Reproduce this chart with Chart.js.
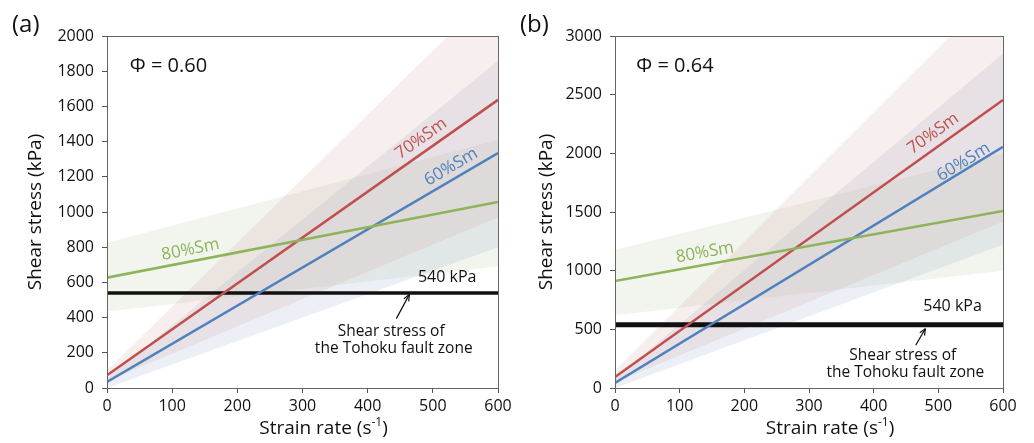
<!DOCTYPE html>
<html>
<head>
<meta charset="utf-8">
<script src="https://cdn.jsdelivr.net/npm/chart.js@4.4.1/dist/chart.umd.min.js"></script>
<style>
  html, body { margin: 0; padding: 0; background: #fff; }
  #wrap { position: relative; width: 1034px; height: 443px; }
  .panel { position: absolute; top: 0; width: 517px; height: 443px; }
</style>
</head>
<body>
<div id="wrap">
  <div class="panel" style="left:0"><canvas id="chartA"></canvas></div>
  <div class="panel" style="left:517px"><canvas id="chartB"></canvas></div>
</div>
<script>
// strain rate range (s^-1) — every line is drawn through these two x values
const strainRate = [0, 600];
const faultStress = [540, 540];

// (a) Φ = 0.60
const a_sm60 = [34, 1335];
const a_sm70 = [72, 1637];
const a_sm80 = [627, 1057];
const a_sm60Hi = [55, 1860];
const a_sm60Lo = [0, 800];
const a_sm70Hi = [100, 2280];
const a_sm70Lo = [40, 970];
const a_sm80Hi = [825, 1410];
const a_sm80Lo = [435, 690];
const a_yTicks = [0, 2000, 200];

// (b) Φ = 0.64
const b_sm60 = [43, 2056];
const b_sm70 = [94, 2455];
const b_sm80 = [912, 1508];
const b_sm60Hi = [80, 2850];
const b_sm60Lo = [0, 1220];
const b_sm70Hi = [150, 3450];
const b_sm70Lo = [50, 1420];
const b_sm80Hi = [1178, 2000];
const b_sm80Lo = [620, 1000];
const b_yTicks = [0, 3000, 500];

const FONT = "'Open Sans', 'Liberation Sans', sans-serif";
const RED = '#c0504d', BLUE = '#4f81bd', GREEN = '#8db45a';

const pts = ys => strainRate.map((x, i) => ({ x, y: ys[i] }));

function line(label, ys, color, width) {
  return { label, data: pts(ys), borderColor: color, borderWidth: width, pointRadius: 0, fill: false, tension: 0 };
}
function band(label, ys, fillTo, color) {
  return { label, data: pts(ys), borderWidth: 0, borderColor: 'rgba(0,0,0,0)', pointRadius: 0,
           fill: fillTo === null ? false : { target: fillTo }, backgroundColor: color };
}

// annotation / frame plugin
const decor = {
  id: 'decor',
  afterDatasetsDraw(chart, args, o) {
    const { ctx, chartArea: ca, scales: { x, y } } = chart;
    const px = v => x.getPixelForValue(v), py = v => y.getPixelForValue(v);
    ctx.save();
    // frame
    ctx.strokeStyle = '#666'; ctx.lineWidth = 1;
    ctx.strokeRect(Math.round(ca.left) + 0.5, Math.round(ca.top) + 0.5,
                   Math.round(ca.right - ca.left), Math.round(ca.bottom - ca.top));

    // panel tag
    ctx.fillStyle = '#111'; ctx.textBaseline = 'middle'; ctx.textAlign = 'left';
    ctx.font = `24px ${FONT}`;
    ctx.fillText(o.tag, o.tagX, 25);

    // phi
    ctx.font = `20px ${FONT}`;
    ctx.fillText(o.phi.text, px(o.phi.x), py(o.phi.y));

    // rotated series labels
    o.labels.forEach(l => {
      const ang = Math.atan2(py(l.ys[1]) - py(l.ys[0]), px(strainRate[1]) - px(strainRate[0]));
      ctx.save();
      ctx.translate(px(l.x), py(l.y));
      ctx.rotate(ang);
      ctx.font = `17px ${FONT}`; ctx.fillStyle = l.color; ctx.textAlign = 'center';
      ctx.fillText(l.text, 0, 0);
      ctx.restore();
    });

    // 540 kPa + note
    ctx.fillStyle = '#111'; ctx.textAlign = 'center';
    ctx.font = `16px ${FONT}`;
    ctx.fillText('540 kPa', px(o.kpa.x), py(o.kpa.y));
    ctx.font = `15.5px ${FONT}`;
    ctx.fillText('Shear stress of', px(o.note.x1), py(o.note.y1));
    ctx.fillText('the Tohoku fault zone', px(o.note.x2), py(o.note.y2));

    // arrow
    const ax0 = px(o.arrow[2]), ay0 = py(o.arrow[3]), ax1 = px(o.arrow[0]), ay1 = py(o.arrow[1]);
    ctx.strokeStyle = '#111'; ctx.lineWidth = 1.2;
    ctx.beginPath(); ctx.moveTo(ax0, ay0); ctx.lineTo(ax1, ay1); ctx.stroke();
    const a = Math.atan2(ay1 - ay0, ax1 - ax0);
    ctx.beginPath();
    ctx.moveTo(ax1, ay1);
    ctx.lineTo(ax1 - 7 * Math.cos(a - 0.4), ay1 - 7 * Math.sin(a - 0.4));
    ctx.moveTo(ax1, ay1);
    ctx.lineTo(ax1 - 7 * Math.cos(a + 0.4), ay1 - 7 * Math.sin(a + 0.4));
    ctx.stroke();

    // x title with superscript
    const cx = (ca.left + ca.right) / 2 + 21, ty = 429;
    const big = `19px ${FONT}`, small = `12px ${FONT}`;
    ctx.font = big; const w1 = ctx.measureText('Strain rate (s').width, w3 = ctx.measureText(')').width;
    ctx.font = small; const w2 = ctx.measureText('-1').width;
    let sx = cx - (w1 + w2 + w3) / 2;
    ctx.textAlign = 'left'; ctx.fillStyle = '#111';
    ctx.font = big; ctx.fillText('Strain rate (s', sx, ty); sx += w1;
    ctx.font = small; ctx.fillText('-1', sx, ty - 6); sx += w2;
    ctx.font = big; ctx.fillText(')', sx, ty);
    ctx.restore();
  }
};

function makeChart(id, d) {
  return new Chart(document.getElementById(id), {
    type: 'line',
    data: {
      datasets: [
        line('80%Sm', d.sm80, GREEN, 2.5),
        line('70%Sm', d.sm70, RED, 2.5),
        line('60%Sm', d.sm60, BLUE, 2.5),
        line('540 kPa', faultStress, '#111', d.faultWidth),
        band('70 hi', d.sm70Hi, 5, 'rgba(200,140,140,0.15)'),
        band('70 lo', d.sm70Lo, null),
        band('60 hi', d.sm60Hi, 7, 'rgba(125,155,195,0.15)'),
        band('60 lo', d.sm60Lo, null),
        band('80 hi', d.sm80Hi, 9, 'rgba(170,190,140,0.15)'),
        band('80 lo', d.sm80Lo, null)
      ]
    },
    options: {
      responsive: true, maintainAspectRatio: false, animation: false,
      layout: { padding: { top: 36, right: d.padRight, left: d.padLeft, bottom: 0 } },
      plugins: {
        legend: { display: false }, tooltip: { enabled: false },
        filler: { drawTime: 'beforeDatasetsDraw' },
        decor: d.decor
      },
      scales: {
        x: {
          type: 'linear', min: 0, max: 600,
          border: { color: '#555' },
          grid: { drawOnChartArea: false, tickLength: 5, color: '#555' },
          ticks: { stepSize: 100, color: '#111', padding: 4, font: { family: FONT, size: 16 }, callback: v => String(v) },
          afterFit: s => { s.height = 55; }
        },
        y: {
          min: d.yTicks[0], max: d.yTicks[1],
          border: { color: '#555' },
          grid: { drawOnChartArea: false, tickLength: 5, color: '#555' },
          ticks: { stepSize: d.yTicks[2], color: '#111', padding: 8, font: { family: FONT, size: 16 }, callback: v => String(v) },
          title: { display: true, text: 'Shear stress (kPa)', color: '#111', padding: 0, font: { family: FONT, size: 19 } },
          afterFit: s => { s.width = d.yWidth; }
        }
      }
    },
    plugins: [decor]
  });
}

makeChart('chartA', {
  sm60: a_sm60, sm70: a_sm70, sm80: a_sm80,
  sm60Hi: a_sm60Hi, sm60Lo: a_sm60Lo, sm70Hi: a_sm70Hi, sm70Lo: a_sm70Lo, sm80Hi: a_sm80Hi, sm80Lo: a_sm80Lo,
  yTicks: a_yTicks, faultWidth: 3.5, padLeft: 24, yWidth: 83, padRight: 19,
  decor: {
    tag: '(a)', tagX: 12,
    phi: { text: 'Φ = 0.60', x: 35, y: 1828 },
    labels: [
      { text: '70%Sm', x: 482, y: 1417, ys: a_sm70, color: RED },
      { text: '60%Sm', x: 528, y: 1256, ys: a_sm60, color: BLUE },
      { text: '80%Sm', x: 128, y: 786, ys: a_sm80, color: GREEN }
    ],
    kpa: { x: 522, y: 631 },
    note: { x1: 436, y1: 322, x2: 440, y2: 224 },
    arrow: [464, 532, 444, 394]
  }
});

makeChart('chartB', {
  sm60: b_sm60, sm70: b_sm70, sm80: b_sm80,
  sm60Hi: b_sm60Hi, sm60Lo: b_sm60Lo, sm70Hi: b_sm70Hi, sm70Lo: b_sm70Lo, sm80Hi: b_sm80Hi, sm80Lo: b_sm80Lo,
  yTicks: b_yTicks, faultWidth: 5, padLeft: 18, yWidth: 80, padRight: 31,
  decor: {
    tag: '(b)', tagX: 3,
    phi: { text: 'Φ = 0.64', x: 33, y: 2742 },
    labels: [
      { text: '70%Sm', x: 492, y: 2168, ys: b_sm70, color: RED },
      { text: '60%Sm', x: 539, y: 1926, ys: b_sm60, color: BLUE },
      { text: '80%Sm', x: 139, y: 1154, ys: b_sm80, color: GREEN }
    ],
    kpa: { x: 522, y: 699 },
    note: { x1: 445, y1: 273, x2: 449, y2: 131 },
    arrow: [480, 506, 465, 364]
  }
});
</script>
</body>
</html>
